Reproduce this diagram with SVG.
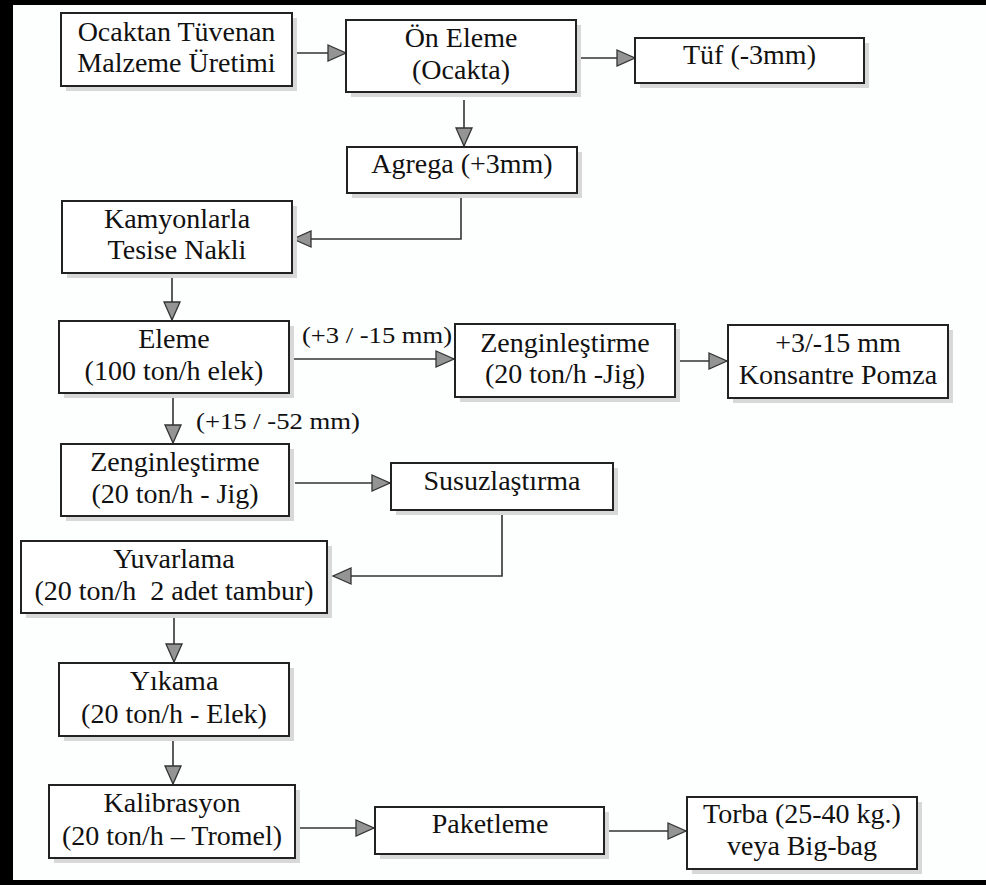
<svg xmlns="http://www.w3.org/2000/svg" width="986" height="885" viewBox="0 0 986 885">
<style>
.box{fill:#fff;stroke:#222;stroke-width:2}
.sh{fill:#d8d8d8}
.t{font-family:"Liberation Serif","Times New Roman",serif;font-size:28px;fill:#111;text-anchor:middle}
.lb{font-family:"Liberation Serif","Times New Roman",serif;font-size:23px;fill:#111}
.c{fill:none;stroke:#333;stroke-width:1.6}
</style>
<defs>
<marker id="ah" viewBox="0 0 20 18" refX="19" refY="9" markerWidth="20" markerHeight="18" orient="auto" markerUnits="userSpaceOnUse">
<path d="M1,1 L19,9 L1,17 Z" fill="#949494" stroke="#333" stroke-width="1.3"/>
</marker>
</defs>
<rect x="0" y="0" width="986" height="885" fill="#fdfefe"/>
<rect x="0" y="0" width="986" height="5" fill="#000"/>
<rect x="0" y="0" width="13" height="885" fill="#000"/>
<rect x="0" y="880" width="986" height="5" fill="#000"/>

<g id="connectors">
<path class="c" d="M292,53 H346" marker-end="url(#ah)"/>
<path class="c" d="M581,58 H635" marker-end="url(#ah)"/>
<path class="c" d="M464,100 V146" marker-end="url(#ah)"/>
<path class="c" d="M461,198 V239 H293" marker-end="url(#ah)"/>
<path class="c" d="M172,278 V320" marker-end="url(#ah)"/>
<path class="c" d="M293,359 H454" marker-end="url(#ah)"/>
<path class="c" d="M680,361 H727" marker-end="url(#ah)"/>
<path class="c" d="M173,398 V443" marker-end="url(#ah)"/>
<path class="c" d="M295,483 H390" marker-end="url(#ah)"/>
<path class="c" d="M502,511 V576 H333" marker-end="url(#ah)"/>
<path class="c" d="M174,618 V662" marker-end="url(#ah)"/>
<path class="c" d="M173,741 V784" marker-end="url(#ah)"/>
<path class="c" d="M297,828 H374" marker-end="url(#ah)"/>
<path class="c" d="M608,831 H686" marker-end="url(#ah)"/>
<text class="lb" x="302" y="343" textLength="150" lengthAdjust="spacingAndGlyphs">(+3 / -15 mm)</text>
<text class="lb" x="196" y="429" textLength="164" lengthAdjust="spacingAndGlyphs">(+15 / -52 mm)</text>
</g>

<g id="n1"><rect class="sh" x="66" y="18" width="231" height="73"/><rect class="box" x="61" y="13" width="231" height="73"/>
<text class="t" x="176.5" y="41">Ocaktan Tüvenan</text><text class="t" x="176.5" y="72">Malzeme Üretimi</text></g>

<g id="n2"><rect class="sh" x="351" y="25" width="230" height="72"/><rect class="box" x="346" y="20" width="230" height="72"/>
<text class="t" x="461" y="47">Ön Eleme</text><text class="t" x="461" y="79">(Ocakta)</text></g>

<g id="n3"><rect class="sh" x="640" y="43" width="229" height="45"/><rect class="box" x="635" y="38" width="229" height="45"/>
<text class="t" x="749.5" y="64">Tüf (-3mm)</text></g>

<g id="n4"><rect class="sh" x="352" y="152" width="230" height="46"/><rect class="box" x="347" y="147" width="230" height="46"/>
<text class="t" x="462" y="173">Agrega (+3mm)</text></g>

<g id="n5"><rect class="sh" x="67" y="206" width="230" height="72"/><rect class="box" x="62" y="201" width="230" height="72"/>
<text class="t" x="177" y="228">Kamyonlarla</text><text class="t" x="177" y="259">Tesise Nakli</text></g>

<g id="n6"><rect class="sh" x="64" y="326" width="230" height="72"/><rect class="box" x="59" y="321" width="230" height="72"/>
<text class="t" x="174" y="348">Eleme</text><text class="t" x="174" y="380">(100 ton/h elek)</text></g>

<g id="n7"><rect class="sh" x="460" y="329" width="220" height="73"/><rect class="box" x="455" y="324" width="220" height="73"/>
<text class="t" x="565" y="352">Zenginleştirme</text><text class="t" x="565" y="383">(20 ton/h -Jig)</text></g>

<g id="n8"><rect class="sh" x="733" y="330" width="220" height="73"/><rect class="box" x="728" y="325" width="220" height="73"/>
<text class="t" x="838" y="352">+3/-15 mm</text><text class="t" x="838" y="384">Konsantre Pomza</text></g>

<g id="n9"><rect class="sh" x="66" y="449" width="228" height="72"/><rect class="box" x="61" y="444" width="228" height="72"/>
<text class="t" x="175" y="471">Zenginleştirme</text><text class="t" x="175" y="503">(20 ton/h - Jig)</text></g>

<g id="n10"><rect class="sh" x="396" y="468" width="222" height="47"/><rect class="box" x="391" y="463" width="222" height="47"/>
<text class="t" x="502" y="490">Susuzlaştırma</text></g>

<g id="n11"><rect class="sh" x="26" y="546" width="306" height="72"/><rect class="box" x="21" y="541" width="306" height="72"/>
<text class="t" x="174" y="568">Yuvarlama</text><text class="t" x="174" y="600" style="white-space:pre" xml:space="preserve">(20 ton/h  2 adet tambur)</text></g>

<g id="n12"><rect class="sh" x="64" y="668" width="230" height="73"/><rect class="box" x="59" y="663" width="230" height="73"/>
<text class="t" x="174" y="690">Yıkama</text><text class="t" x="174" y="723">(20 ton/h - Elek)</text></g>

<g id="n13"><rect class="sh" x="54" y="790" width="246" height="73"/><rect class="box" x="49" y="785" width="246" height="73"/>
<text class="t" x="172" y="812">Kalibrasyon</text><text class="t" x="172" y="845">(20 ton/h – Tromel)</text></g>

<g id="n14"><rect class="sh" x="380" y="812" width="229" height="47"/><rect class="box" x="375" y="807" width="229" height="47"/>
<text class="t" x="490" y="833">Paketleme</text></g>

<g id="n15"><rect class="sh" x="692" y="802" width="230" height="72"/><rect class="box" x="687" y="797" width="230" height="72"/>
<text class="t" x="802" y="823">Torba (25-40 kg.)</text><text class="t" x="802" y="855">veya Big-bag</text></g>
</svg>
